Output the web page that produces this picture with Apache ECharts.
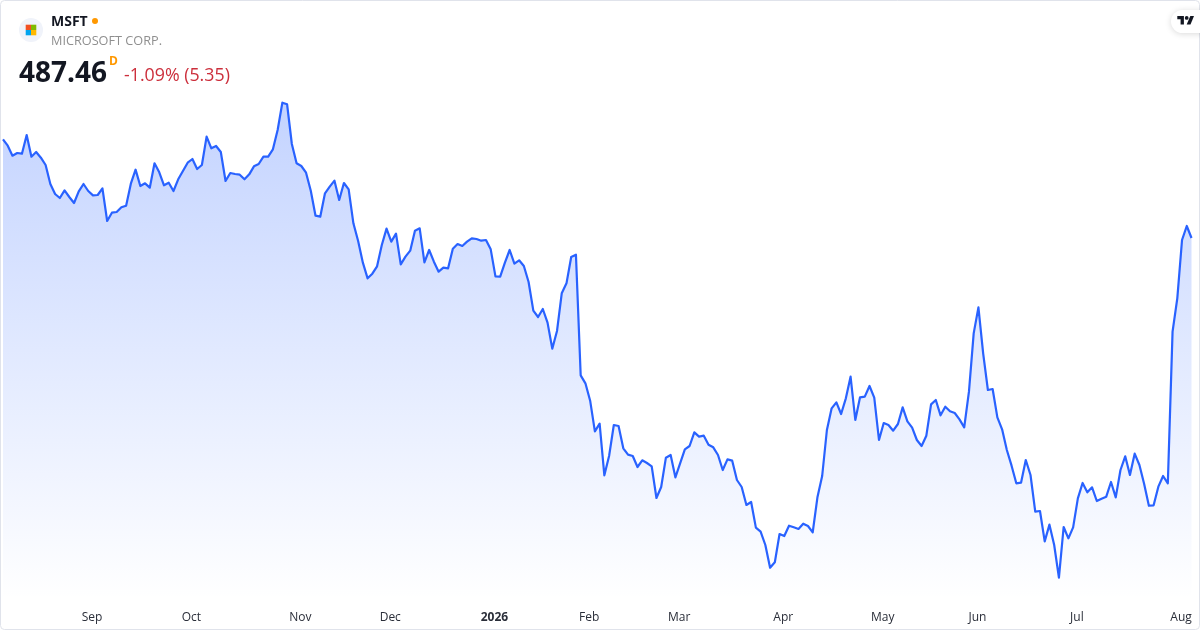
<!DOCTYPE html>
<html>
<head>
<meta charset="utf-8">
<script src="https://cdn.jsdelivr.net/npm/echarts@6/dist/echarts.min.js"></script>
<style>html,body{margin:0;padding:0;background:#fff}#c{width:1200px;height:630px}</style>
</head>
<body>
<div id="c"></div>
<script>
const prices = [
526.93,524.39,520.39,521.46,521.19,528.66,519.99,521.86,519.59,516.66,
509.06,505.06,503.46,506.53,503.86,501.46,506.13,509.06,506.26,504.53,
504.66,507.33,494.26,497.59,497.86,499.73,500.39,509.19,514.79,508.26,
509.33,507.59,517.33,513.73,508.53,509.59,506.26,510.93,514.26,517.59,
519.06,515.06,516.66,527.99,523.33,524.26,521.86,510.26,513.46,513.06,
512.79,510.93,512.93,516.13,517.06,519.99,519.99,522.93,530.66,541.59,
540.93,525.06,517.33,516.26,513.59,506.39,496.39,495.99,505.33,507.99,
510.39,502.66,509.46,506.93,493.33,486.26,477.59,471.33,473.19,476.13,
484.66,491.19,485.99,489.19,476.93,479.99,482.39,490.39,491.33,477.73,
482.66,477.99,473.99,475.59,475.33,483.19,485.06,484.26,485.99,487.33,
487.06,486.39,486.66,482.93,472.13,471.99,477.59,482.66,477.19,478.53,
476.26,469.86,458.39,455.86,459.06,453.59,443.19,450.26,465.33,469.33,
479.86,480.79,432.53,429.33,422.39,410.13,413.19,392.53,400.26,412.66,
412.26,403.33,400.79,400.26,395.86,398.53,397.46,396.13,383.46,387.86,
399.59,400.66,391.73,397.33,402.93,404.26,409.73,407.99,408.39,404.79,
403.73,400.66,394.66,398.93,398.39,390.66,387.86,380.66,381.86,371.59,
369.99,364.66,355.59,357.73,369.06,368.26,372.39,371.73,371.06,373.19,
372.26,369.73,383.73,392.26,410.66,419.33,421.73,417.06,423.33,431.99,
414.66,423.73,423.99,428.26,423.59,406.66,413.46,412.66,410.39,413.06,
419.73,414.13,411.59,406.66,404.26,408.39,420.93,422.66,416.53,419.99,
418.13,417.46,414.93,411.73,425.99,449.33,459.73,441.33,426.66,427.06,
415.73,410.93,402.66,396.39,389.33,389.59,398.66,392.66,377.99,378.26,
366.13,372.79,364.66,351.59,371.86,367.33,371.73,383.33,389.46,385.73,
387.73,382.26,383.19,383.99,389.86,383.73,394.66,400.13,392.66,401.19,
396.66,389.06,380.39,380.53,387.99,392.26,389.33,449.99,463.33,486.66,
492.26,487.46
];
const tickLabels = ['Sep','Oct','Nov','Dec','2026','Feb','Mar','Apr','May','Jun','Jul','Aug'];
const tickIndexes = [19,40,63,82,104,124,143,165,186,206,227,249];
const categories = prices.map((_, i) => {
  const k = tickIndexes.indexOf(i);
  return k >= 0 ? tickLabels[k] : '';
});
const ticker = 'MSFT';
const company = 'MICROSOFT CORP.';
const lastPrice = '487.46';
const changeText = '-1.09% (5.35)';

const chart = echarts.init(document.getElementById('c'), null, {renderer:'canvas'});
const FONT = '"Open Sans","Noto Sans",sans-serif';
const sq = (x,y,fill) => ({type:'rect',silent:true,z:10,shape:{x,y,width:5.3,height:5.3},style:{fill}});
const txt = (x,y,text,font,fill) => ({type:'text',silent:true,z:10,x,y,
  style:{text,font,fill,textVerticalAlign:'middle'}});
chart.setOption({
  animation:false,
  backgroundColor:'#ffffff',
  grid:{left:2.7,right:8.5,top:0,bottom:30},
  xAxis:{type:'category',data:categories,boundaryGap:false,
    axisLine:{show:false},axisTick:{show:false},splitLine:{show:false},
    axisLabel:{interval:0,margin:12,padding:[0,2,0,0],fontFamily:FONT,fontSize:12,color:'#2a2e39',hideOverlap:false,
      formatter:v => /^\d+$/.test(v) ? '{b|'+v+'}' : v,
      rich:{b:{fontFamily:FONT,fontSize:12,fontWeight:'bold',color:'#2a2e39'}}}},
  yAxis:{type:'value',show:false,min:342.66,max:582.66,splitLine:{show:false}},
  series:[{type:'line',data:prices,symbol:'none',smooth:false,
    lineStyle:{color:'#2962ff',width:2.2,join:'round'},
    areaStyle:{opacity:1,origin:'start',color:new echarts.graphic.LinearGradient(0,0,0,1,[
      {offset:0,color:'rgba(41,98,255,0.28)'},{offset:1,color:'rgba(41,98,255,0)'}])}}],
  graphic:[
    {type:'rect',silent:true,z:5,shape:{x:0.5,y:0.5,width:1199,height:629,r:4},style:{fill:'none',stroke:'#e0e3eb',lineWidth:1}},
    {type:'circle',silent:true,z:10,shape:{cx:31,cy:30,r:12},style:{fill:'#f0f3fa'}},
    sq(25.7,24.7,'#f25022'),sq(31,24.7,'#7fba00'),sq(25.7,30,'#00a4ef'),sq(31,30,'#ffb900'),
    txt(51,22,ticker,'bold 14px '+FONT,'#131722'),
    {type:'circle',silent:true,z:10,shape:{cx:95,cy:21,r:3},style:{fill:'#ff9800'}},
    txt(51,41,company,'12.7px '+FONT,'#8f8f8f'),
    txt(19,74,lastPrice,'bold 28px '+FONT,'#131722'),
    txt(109,62,'D','bold 12px '+FONT,'#ff9800'),
    txt(124,76,changeText,'17.8px '+FONT,'#cc2f3c'),
    {type:'rect',silent:true,z:10,shape:{x:1171,y:10,width:40,height:23,r:11.5},
      style:{fill:'#fff',shadowColor:'rgba(0,0,0,0.15)',shadowBlur:6,shadowOffsetY:1}},
    {type:'polygon',silent:true,z:11,shape:{points:[[1177.3,16],[1183.9,16],[1183.9,24.5],[1180.6,24.5],[1180.6,19.3],[1177.3,19.3]]},style:{fill:'#131722'}},
    {type:'polygon',silent:true,z:11,shape:{points:[[1190.3,16],[1194,16],[1190.5,24.5],[1186.7,24.5]]},style:{fill:'#131722'}},
    {type:'circle',silent:true,z:11,shape:{cx:1186.7,cy:17.9,r:1.9},style:{fill:'#131722'}}
  ]
});
</script>
</body>
</html>
